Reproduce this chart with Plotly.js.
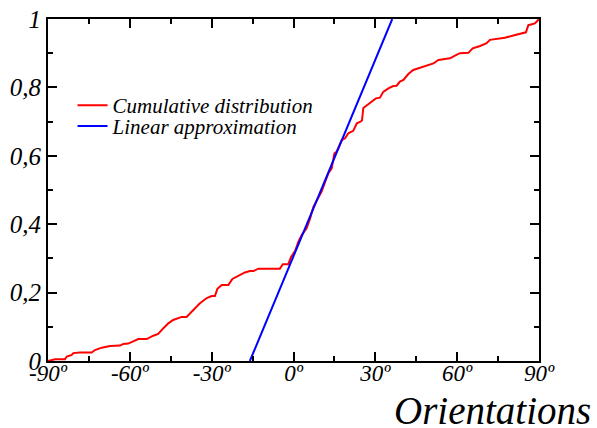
<!DOCTYPE html>
<html>
<head>
<meta charset="utf-8">
<script src="https://cdn.plot.ly/plotly-3.0.1.min.js"></script>
<style>html,body{margin:0;padding:0;background:#fff;}#chart{width:597px;height:428px;}</style>
</head>
<body>
<div id="chart"></div>
<script>
// Cumulative distribution of orientations (degrees -> fraction)
var cumAngles = [-90, -87.4, -83.8, -83.1, -81.3, -80.7, -78.3, -74.0, -72.8, -70.3, -67.3, -63.6, -62.4, -60.6,
  -56.9, -53.8, -51.4, -49.6, -47.7, -45.9, -44.1, -41.0, -39.2, -36.7, -34.3, -31.8, -30.0, -28.8, -27.9,
  -26.3, -23.9, -22.4, -20.4, -17.8, -16.0, -14.7, -12.9, -5.0, -3.9, -1.9, -0.9, 0.6, 1.8, 3.0, 4.8, 6.1,
  7.3, 9.1, 10.3, 11.6, 12.8, 14.0, 15.0, 15.8, 16.8, 17.7, 18.9, 20.1, 21.9, 23.2, 24.4, 25.1, 25.6, 27.4,
  29.3, 30.2, 31.7, 32.9, 34.8, 36.6, 37.8, 39.0, 40.3, 42.1, 43.9, 46.4, 48.8, 51.3, 53.1, 54.9, 57.4,
  59.2, 61.0, 64.1, 65.7, 68.4, 70.8, 72.0, 74.5, 77.5, 80.6, 83.0, 85.2, 86.1, 87.3, 88.5, 89.7, 90];
var cumValues = [0, 0.005, 0.005, 0.013, 0.018, 0.023, 0.025, 0.025, 0.032, 0.039, 0.044, 0.045, 0.050, 0.051,
  0.064, 0.064, 0.074, 0.079, 0.096, 0.110, 0.120, 0.129, 0.129, 0.149, 0.169, 0.184, 0.190, 0.190, 0.211,
  0.222, 0.222, 0.240, 0.249, 0.259, 0.263, 0.263, 0.270, 0.270, 0.283, 0.283, 0.304, 0.322, 0.349, 0.368,
  0.388, 0.417, 0.451, 0.480, 0.495, 0.524, 0.549, 0.563, 0.607, 0.612, 0.632, 0.646, 0.651, 0.666, 0.673,
  0.695, 0.699, 0.703, 0.740, 0.751, 0.763, 0.768, 0.770, 0.787, 0.797, 0.804, 0.805, 0.817, 0.822, 0.839,
  0.851, 0.858, 0.863, 0.870, 0.880, 0.882, 0.885, 0.893, 0.900, 0.901, 0.914, 0.921, 0.929, 0.939, 0.941,
  0.945, 0.952, 0.957, 0.961, 0.982, 0.985, 0.987, 0.997, 1];
// Linear approximation endpoints
var linAngles = [-16.0, 36.2];
var linValues = [0, 1];

var xTickVals = [-90, -60, -30, 0, 30, 60, 90];
var xTickText = ['-90º', '-60º', '-30º', '0º', '30º', '60º', '90º'];
var yTickVals = [0, 0.2, 0.4, 0.6, 0.8, 1];
var yTickText = ['0', '0,2', '0,4', '0,6', '0,8', '1'];

var serif = "'Liberation Serif', 'Times New Roman', Times, serif";
var legendFont = {family: serif, size: 21, style: 'italic', color: '#000'};

var traces = [
  {x: cumAngles, y: cumValues, mode: 'lines', name: 'Cumulative distribution',
   line: {color: '#ff0000', width: 2}, legend: 'legend'},
  {x: linAngles, y: linValues, mode: 'lines', name: 'Linear approximation',
   line: {color: '#0000ff', width: 2}, legend: 'legend2'}
];

var layout = {
  width: 597, height: 428,
  margin: {l: 48, r: 58, t: 19, b: 67, pad: 0},
  paper_bgcolor: '#fff', plot_bgcolor: '#fff',
  showlegend: true,
  legend: {x: 0.05, y: 0.807, xanchor: 'left', yanchor: 'top', bgcolor: 'rgba(0,0,0,0)',
    font: legendFont, itemwidth: 30},
  legend2: {x: 0.05, y: 0.746, xanchor: 'left', yanchor: 'top', bgcolor: 'rgba(0,0,0,0)',
    font: legendFont, itemwidth: 30},
  xaxis: {
    range: [-90, 90], showgrid: false, zeroline: false,
    showline: true, linecolor: '#000', linewidth: 2, mirror: 'ticks',
    ticks: 'inside', ticklen: 9, tickwidth: 2, tickcolor: '#000',
    tickvals: xTickVals, ticktext: xTickText, ticklabelstandoff: -10,
    tickfont: {family: serif, size: 23, style: 'italic', color: '#000'},
    minor: {ticks: 'inside', ticklen: 5, tickwidth: 2, tickcolor: '#000', dtick: 15, tick0: -90, showgrid: false}
  },
  yaxis: {
    range: [0, 1], showgrid: false, zeroline: false,
    showline: true, linecolor: '#000', linewidth: 2, mirror: 'ticks',
    ticks: 'inside', ticklen: 9, tickwidth: 2, tickcolor: '#000',
    tickvals: yTickVals, ticktext: yTickText,
    tickfont: {family: serif, size: 25, style: 'italic', color: '#000'},
    minor: {ticks: 'inside', ticklen: 5, tickwidth: 2, tickcolor: '#000', dtick: 0.1, tick0: 0, showgrid: false}
  },
  annotations: [{
    text: 'Orientations', xref: 'paper', yref: 'paper', x: 1.11, y: -0.212,
    xanchor: 'right', yanchor: 'bottom', showarrow: false,
    font: {family: serif, size: 39, style: 'italic', color: '#000'}
  }]
};

Plotly.newPlot('chart', traces, layout, {displayModeBar: false, staticPlot: true});
</script>
</body>
</html>
